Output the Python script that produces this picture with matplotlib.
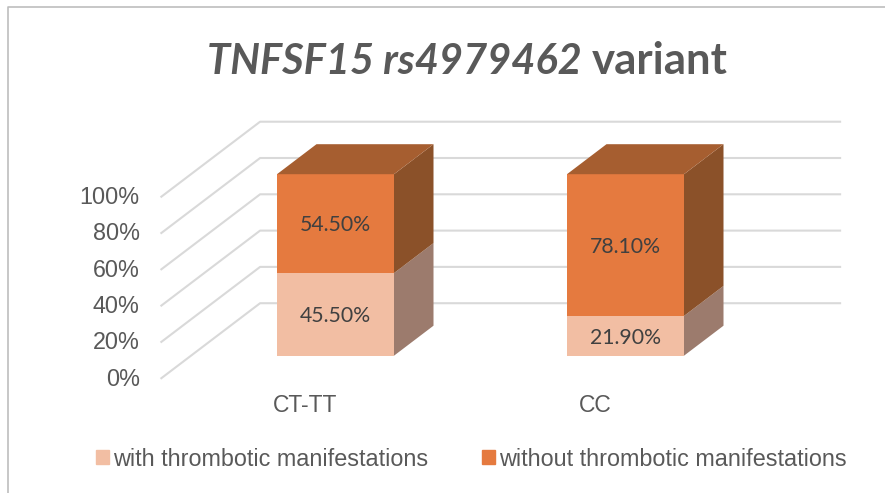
import numpy as np
import matplotlib
matplotlib.use("Agg")
import matplotlib.pyplot as plt
from matplotlib.lines import Line2D
from matplotlib.patches import Patch

# data
categories = ["CT-TT", "CC"]
with_thrombotic = [45.5, 21.9]
without_thrombotic = [54.5, 78.1]
series_names = ["with thrombotic manifestations", "without thrombotic manifestations"]
ticks = [0, 20, 40, 60, 80, 100]

# colours
light = "#F2BEA3"
orange = "#E57A3F"
top_col = "#A65E30"
side_dark = "#8B5129"
side_light = "#9C7B6D"
grid_col = "#D9D9D9"
text_col = "#595959"
label_col = "#404040"

W, H = 885, 493
px_x = 290.0   # pixels per category
px_y = 1.815   # pixels per percent
x0_px, y0_px = 335.5, 355.7  # where category 0 / 0% sits
bar_w = 117 / px_x
# one unit of depth (front of bar to back of bar)
dx = 39.5 / px_x
dy = 30 / px_y

fig = plt.figure(figsize=(W / 100, H / 100), dpi=100)
ax = fig.add_axes([0, 0, 1, 1])
ax.set_xlim(-x0_px / px_x, (W - x0_px) / px_x)
ax.set_ylim(-(H - y0_px) / px_y, y0_px / px_y)
ax.axis("off")

# walls: slanted floor/side lines then the back wall
wall_left = -0.26
wall_right = 1.74
back, front = 1.75, -0.75
for t in ticks:
    xa = wall_left + (front - back) * dx
    xb = wall_left
    ya = t + front * dy
    yb = t + back * dy
    ax.plot([xa, xb, wall_right], [ya, yb, yb], color=grid_col, lw=1.5, zorder=1,
            solid_joinstyle="round")
    ax.text(xa - 21.5 / px_x, ya - 0.5, "%d%%" % t, ha="right", va="center", color=text_col,
            fontsize=16.8, family="Liberation Sans")

x = np.arange(len(categories))
ax.bar(x, with_thrombotic, bar_w, color=light, zorder=3)
ax.bar(x, without_thrombotic, bar_w, bottom=with_thrombotic, color=orange, zorder=3)

for i in x:
    r = i + bar_w / 2
    l = i - bar_w / 2
    a = with_thrombotic[i]
    b = a + without_thrombotic[i]
    # right side faces
    ax.fill([r, r + dx, r + dx, r], [0, dy, a + dy, a], color=side_light, lw=0, zorder=3)
    ax.fill([r, r + dx, r + dx, r], [a, a + dy, b + dy, b], color=side_dark, lw=0, zorder=3)
    # top face
    ax.fill([l, l + dx, r + dx, r], [b, b + dy, b + dy, b], color=top_col, lw=0, zorder=3)
    # value labels
    ax.text(i, a / 2 - 1, "%.2f%%" % with_thrombotic[i], ha="center", va="center",
            color=label_col, fontsize=15.3, family="Lato", zorder=4)
    ax.text(i, a + without_thrombotic[i] / 2 - 1, "%.2f%%" % without_thrombotic[i], ha="center",
            va="center", color=label_col, fontsize=15.3, family="Lato", zorder=4)
    ax.text(i - 30 / px_x, -27.2, categories[i], ha="center", va="center", color=text_col,
            fontsize=16.5, family="Liberation Sans")

# title, two parts since only the first is italic
fig.text(582 / W, 1 - 74 / H, "TNFSF15 rs4979462", ha="right", va="baseline", color=text_col,
         fontsize=30, family="Lato", weight="bold", style="italic")
fig.text(592 / W, 1 - 74 / H, "variant", ha="left", va="baseline", color=text_col,
         fontsize=31.5, family="Lato", weight="bold")

handles = [Patch(color=light), Patch(color=orange)]
ax.legend(handles, series_names, loc="center", bbox_to_anchor=(471.5 / W, 1 - 459 / H),
          bbox_transform=fig.transFigure, ncol=2, frameon=False,
          labelcolor=text_col, handlelength=0.55, handleheight=0.55, handletextpad=0.17,
          columnspacing=2.3, prop={"family": "Liberation Sans", "size": 16.8})

# outer frame of the original screenshot
fig.add_artist(Line2D([8 / W, 8 / W, 1], [0, 1 - 7 / H, 1 - 7 / H], color="#BDBDBD", lw=1.2))

fig.savefig("out.png", dpi=100)
